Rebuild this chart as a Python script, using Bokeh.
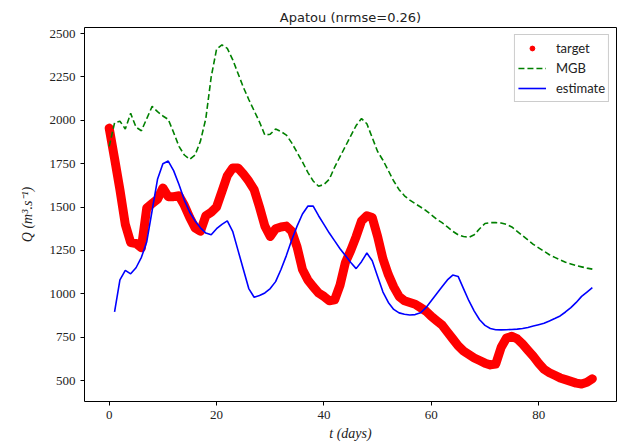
from bokeh.plotting import figure
from bokeh.models import Range1d, Legend, LegendItem, FixedTicker
from bokeh.embed import file_html
from bokeh.resources import INLINE

days = list(range(0, 91))

target = [1955, 1780, 1600, 1400, 1295, 1290, 1265, 1495, 1520, 1545,
          1610, 1560, 1560, 1565, 1510, 1440, 1380, 1360, 1450, 1470,
          1500, 1590, 1680, 1725, 1725, 1690, 1650, 1600, 1500, 1390,
          1330, 1375, 1385, 1390, 1360, 1270, 1140, 1080, 1040, 1005,
          985, 960, 965, 1050, 1180, 1250, 1330, 1420, 1450, 1440,
          1330, 1200, 1110, 1040, 985, 960, 950, 940, 920, 900,
          870, 845, 820, 780, 740, 700, 670, 650, 630, 615,
          600, 590, 595, 690, 745, 755, 740, 710, 675, 640,
          600, 565, 545, 530, 515, 505, 495, 485, 480, 490, 510]

mgb = [1850, 1985, 1995, 1950, 2040, 1960, 1940, 2010, 2080, 2050,
       2025, 2005, 1930, 1850, 1800, 1775, 1800, 1880, 2010, 2250,
       2410, 2435, 2415, 2350, 2270, 2190, 2120, 2055, 1990, 1915,
       1920, 1950, 1935, 1915, 1870, 1815, 1760, 1700, 1650, 1620,
       1630, 1660, 1730, 1790, 1850, 1910, 1970, 2010, 1980, 1900,
       1820, 1770, 1710, 1650, 1600, 1565, 1540, 1520, 1500, 1480,
       1455, 1430, 1410, 1385, 1360, 1340, 1330, 1325, 1340, 1375,
       1405, 1410, 1410, 1408, 1400, 1385, 1360, 1335, 1310, 1285,
       1265, 1245, 1225, 1210, 1195, 1182, 1172, 1162, 1155, 1148, 1142]

est_days = list(range(1, 91))
estimate = [895, 1080, 1135, 1115, 1150, 1210, 1300, 1480, 1660, 1750,
            1765, 1710, 1630, 1540, 1470, 1420, 1380, 1350, 1340, 1375,
            1400, 1420, 1360, 1250, 1140, 1030, 980, 990, 1005, 1030,
            1070, 1140, 1220, 1310, 1390, 1460, 1505, 1505, 1450, 1400,
            1350, 1305, 1260, 1220, 1180, 1145, 1185, 1235, 1190, 1100,
            1010, 950, 910, 890, 882, 878, 880, 890, 920, 960,
            1000, 1040, 1080, 1108, 1100, 1030, 960, 900, 850, 818,
            800, 793, 792, 793, 794, 796, 800, 806, 814, 822,
            830, 843, 857, 872, 895, 920, 950, 985, 1010, 1035]

x_ticks = [0, 20, 40, 60, 80]
y_ticks = [500, 750, 1000, 1250, 1500, 1750, 2000, 2250, 2500]

p = figure(width=621, height=443, output_backend="svg", toolbar_location=None,
           x_range=Range1d(-4.6, 94.5), y_range=Range1d(379, 2535),
           min_border_left=84, min_border_right=5, min_border_top=27,
           min_border_bottom=42, title="Apatou (nrmse=0.26)")

p.title.align = "center"
p.title.text_font = "DejaVu Sans"
p.title.text_font_size = "13px"
p.title.text_font_style = "normal"
p.title.text_color = "#222222"
p.title.offset = 0
p.title.standoff = 6

p.xgrid.visible = False
p.ygrid.visible = False
p.outline_line_color = "black"
p.outline_line_width = 1
p.outline_line_alpha = 1

for ax in (p.xaxis[0], p.yaxis[0]):
    ax.axis_line_color = None
    ax.major_tick_in = 0
    ax.major_tick_out = 4
    ax.minor_tick_line_color = None
    ax.major_label_text_font = "Liberation Serif"
    ax.major_label_text_font_size = "13px"
    ax.major_label_text_color = "#222222"
    ax.axis_label_text_font = "Liberation Serif"
    ax.axis_label_text_font_size = "14px"
    ax.axis_label_text_font_style = "italic"
    ax.axis_label_text_color = "#222222"

p.xaxis.ticker = FixedTicker(ticks=x_ticks)
p.yaxis.ticker = FixedTicker(ticks=y_ticks)
p.xaxis.axis_label = "t (days)"
p.yaxis.axis_label = "Q (m³.s⁻¹)"
p.xaxis.axis_label_standoff = 4
p.yaxis.axis_label_standoff = 12

p.line(days, target, line_color="red", line_width=9, line_join="round", line_cap="round")
r_target = p.scatter(days, target, marker="circle", size=6, color="red")
r_mgb = p.line(days, mgb, line_color="green", line_width=1.6, line_dash="6 3")
r_est = p.line(est_days, estimate, line_color="blue", line_width=1.6)

legend = Legend(items=[LegendItem(label="target", renderers=[r_target]),
                       LegendItem(label="MGB", renderers=[r_mgb]),
                       LegendItem(label="estimate", renderers=[r_est])],
                location="top_right")
legend.label_text_font = "Lato"
legend.label_text_font_size = "13px"
legend.label_text_color = "#222222"
legend.border_line_color = "#cccccc"
legend.border_line_alpha = 1
legend.background_fill_alpha = 0.8
legend.margin = 7
legend.padding = 3
legend.spacing = 0
legend.glyph_width = 28
legend.glyph_height = 12
legend.label_height = 20
legend.label_standoff = 10
p.add_layout(legend)

open("out.html", "w").write(file_html(p, INLINE))
